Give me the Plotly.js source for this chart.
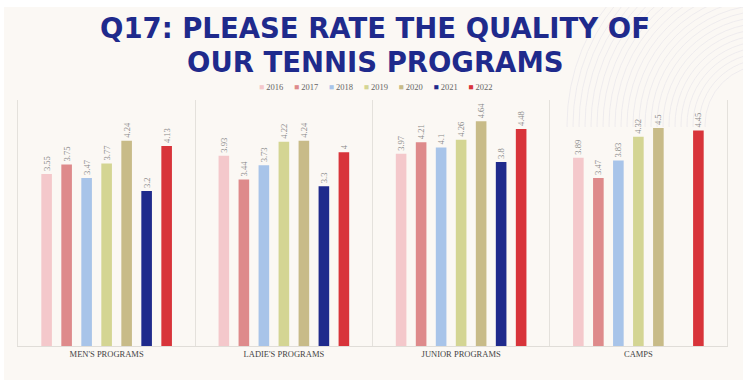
<!DOCTYPE html>
<html>
<head>
<meta charset="utf-8">
<script src="https://cdn.plot.ly/plotly-3.0.1.min.js"></script>
<style>
html,body{margin:0;padding:0;background:#ffffff;}
#chart{width:753px;height:390px;}
</style>
</head>
<body>
<div id="chart"></div>
<script>
// ---- data ----
var categories = ["MEN'S PROGRAMS", "LADIE'S PROGRAMS", "JUNIOR PROGRAMS", "CAMPS"];
var years = ["2016", "2017", "2018", "2019", "2020", "2021", "2022"];
var v2016 = [3.55, 3.93, 3.97, 3.89];
var v2017 = [3.75, 3.44, 4.21, 3.47];
var v2018 = [3.47, 3.73, 4.1, 3.83];
var v2019 = [3.77, 4.22, 4.26, 4.32];
var v2020 = [4.24, 4.24, 4.64, 4.5];
var v2021 = [3.2, 3.3, 3.8, null];
var v2022 = [4.13, 4, 4.48, 4.45];
var seriesValues = [v2016, v2017, v2018, v2019, v2020, v2021, v2022];
var colors = ["#f4c8cb", "#de8a8b", "#a8c4e9", "#d4d593", "#c8bb88", "#1f2a8c", "#d8343a"];
var titleLines = ["Q17: PLEASE RATE THE QUALITY OF", "OUR TENNIS PROGRAMS"];

var serif = "Liberation Serif, DejaVu Serif, serif";
var titleFont = "DejaVu Sans, Liberation Sans, sans-serif";

var traces = years.map(function (yr, i) {
  return {
    type: 'bar',
    name: yr,
    x: categories,
    y: seriesValues[i],
    marker: {color: colors[i]},
    text: seriesValues[i].map(function (v) { return v === null ? '' : String(v); }),
    texttemplate: '%{text}',
    textposition: 'outside',
    textangle: -90,
    constraintext: 'none',
    cliponaxis: false,
    textfont: {family: serif, size: 8.5, color: '#8a8a8a'},
    hoverinfo: 'x+y+name',
    showlegend: false
  };
});

// legend built from years & colors
var legendText = years.map(function (yr, i) {
  return '<span style="color:' + colors[i] + '">\u25A0</span> ' + yr;
}).join('&nbsp;&nbsp;&nbsp;&nbsp;&nbsp;');

// pixel -> paper helpers for decoration
function px(x) { return (x - 18) / 709; }
function py(y) { return (346 - y) / 246; }

var shapes = [{
  type: 'rect', xref: 'paper', yref: 'paper', layer: 'below',
  x0: px(4), x1: px(743), y0: py(380), y1: py(7),
  fillcolor: '#fbf8f4', line: {width: 0}
}];
for (var r = 60; r <= 200; r += 6) {
  shapes.push({
    type: 'circle', xref: 'paper', yref: 'paper', layer: 'below',
    x0: px(765 - r), x1: px(765 + r),
    y0: py(125 + r), y1: py(125 - r),
    line: {color: '#ebe9ec', width: 0.8}
  });
}
// masks: keep arcs inside the top-right corner of the panel
shapes.push({type: 'rect', xref: 'paper', yref: 'paper', layer: 'below',
  x0: px(520), x1: px(743), y0: py(360), y1: py(127),
  fillcolor: '#fbf8f4', line: {width: 0}});
shapes.push({type: 'rect', xref: 'paper', yref: 'paper', layer: 'below',
  x0: px(743), x1: px(770), y0: py(400), y1: py(-10),
  fillcolor: '#ffffff', line: {width: 0}});
shapes.push({type: 'rect', xref: 'paper', yref: 'paper', layer: 'below',
  x0: px(500), x1: px(770), y0: py(7), y1: py(-10),
  fillcolor: '#ffffff', line: {width: 0}});

var layout = {
  width: 753, height: 390,
  margin: {l: 18, r: 26, t: 100, b: 44, pad: 0},
  paper_bgcolor: '#ffffff',
  plot_bgcolor: 'rgba(0,0,0,0)',
  barmode: 'group',
  bargap: 0.21,
  bargroupgap: 0.47,
  showlegend: false,
  xaxis: {
    type: 'category',
    tickson: 'boundaries',
    showgrid: true, gridcolor: '#e4e1dc', gridwidth: 1,
    showline: true, linecolor: '#e0ddd8', linewidth: 1,
    ticks: '',
    tickfont: {family: serif, size: 8.5, color: '#444444'},
    fixedrange: true
  },
  yaxis: {
    range: [0, 5.08],
    showgrid: false, zeroline: false, showticklabels: false,
    showline: true, mirror: true, linecolor: '#e4e1dc', linewidth: 1,
    ticks: '',
    fixedrange: true
  },
  shapes: shapes,
  annotations: [
    {text: '<b>' + titleLines[0] + '</b>', xref: 'paper', yref: 'paper',
     x: px(375), y: py(28.5), xanchor: 'center', yanchor: 'middle',
     showarrow: false, font: {family: titleFont, size: 27.5, color: '#1f2a8c'}},
    {text: '<b>' + titleLines[1] + '</b>', xref: 'paper', yref: 'paper',
     x: px(375), y: py(62), xanchor: 'center', yanchor: 'middle',
     showarrow: false, font: {family: titleFont, size: 27.5, color: '#1f2a8c'}},
    {text: legendText, xref: 'paper', yref: 'paper',
     x: px(376), y: py(87), xanchor: 'center', yanchor: 'middle',
     showarrow: false, font: {family: serif, size: 8.5, color: '#666666'}}
  ]
};

Plotly.newPlot('chart', traces, layout, {displayModeBar: false, staticPlot: true});
</script>
</body>
</html>
